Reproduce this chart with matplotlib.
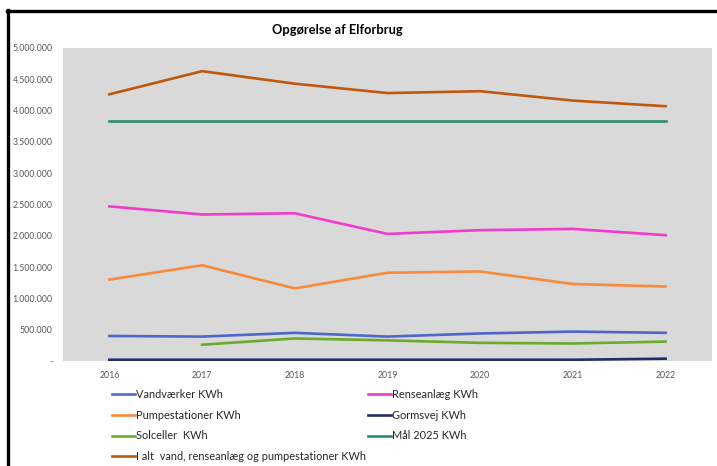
import matplotlib.pyplot as plt
from matplotlib.lines import Line2D
from matplotlib.ticker import FuncFormatter

plt.rcParams['font.family'] = ['Lato', 'DejaVu Sans']

# data
aar = ["2016", "2017", "2018", "2019", "2020", "2021", "2022"]
vandvaerker = [400000, 390000, 450000, 390000, 440000, 470000, 450000]
renseanlaeg = [2470000, 2340000, 2360000, 2030000, 2090000, 2110000, 2010000]
pumpestationer = [1300000, 1530000, 1160000, 1410000, 1430000, 1230000, 1190000]
gormsvej = [20000, 20000, 20000, 20000, 20000, 20000, 37000]
solceller = [None, 260000, 360000, 330000, 290000, 280000, 310000]
maal_2025 = [3830000] * 7
i_alt = [4260000, 4630000, 4430000, 4280000, 4310000, 4160000, 4070000]

fig = plt.figure(figsize=(7.17, 4.66), dpi=100)
ax = fig.add_axes([0.0879, 0.2253, 0.905, 0.6717])
ax.set_facecolor("#d9d9d9")

x = list(range(len(aar)))
lw = 1.9
l_vand, = ax.plot(x, vandvaerker, color="#4f68c8", lw=lw, label="Vandværker KWh")
l_rense, = ax.plot(x, renseanlaeg, color="#f03ccb", lw=lw, label="Renseanlæg KWh")
l_pump, = ax.plot(x, pumpestationer, color="#f88a3c", lw=lw, label="Pumpestationer KWh")
l_gorm, = ax.plot(x, gormsvej, color="#1f2d6e", lw=lw, label="Gormsvej KWh")
sol_x = [i for i, v in zip(x, solceller) if v is not None]
sol_y = [v for v in solceller if v is not None]
l_sol, = ax.plot(sol_x, sol_y, color="#6aab2a", lw=lw, label="Solceller  KWh")
l_maal, = ax.plot(x, maal_2025, color="#2f8a6a", lw=lw, label="Mål 2025 KWh")
l_alt, = ax.plot(x, i_alt, color="#c0570f", lw=lw,
                 label="I alt  vand, renseanlæg og pumpestationer KWh")

ax.set_xlim(-0.5, 6.5)
ax.set_ylim(0, 5000000)
ax.set_xticks(x)
ax.set_xticklabels(aar)
ax.set_yticks(range(0, 5000001, 500000))


def tusind(v, pos):
    if v == 0:
        return "-"
    return f"{int(v):,}".replace(",", ".")


ax.yaxis.set_major_formatter(FuncFormatter(tusind))
ax.tick_params(length=0, labelsize=6.3, colors="#595959")
ax.tick_params(axis="y", pad=7.5)
ax.tick_params(axis="x", pad=7)
for s in ax.spines.values():
    s.set_visible(False)

fig.text(0.47, 0.935, "Opgørelse af Elforbrug", ha="center", va="center",
         fontsize=9.3, fontweight="bold")

# Excel fills legend row by row, matplotlib column by column
handles = [l_vand, l_pump, l_sol, l_alt, l_rense, l_gorm, l_maal]
fig.legend(handles=handles, labels=[h.get_label() for h in handles],
           ncol=2, loc="upper left", bbox_to_anchor=(0.156, 0.166),
           frameon=False, fontsize=7.9, handlelength=2.1, handletextpad=0.1,
           columnspacing=0.15, labelspacing=0.9, borderaxespad=0,
           borderpad=0, labelcolor="#262626")

# chart frame (cut at right and bottom in the reference)
fig.add_artist(Line2D([0.0115, 0.0115], [0, 0.978], color="black", lw=2.4,
                      transform=fig.transFigure))
fig.add_artist(Line2D([0.0098, 1.0], [0.976, 0.976], color="black", lw=2.4,
                      transform=fig.transFigure))

fig.savefig("out.png", dpi=100)
